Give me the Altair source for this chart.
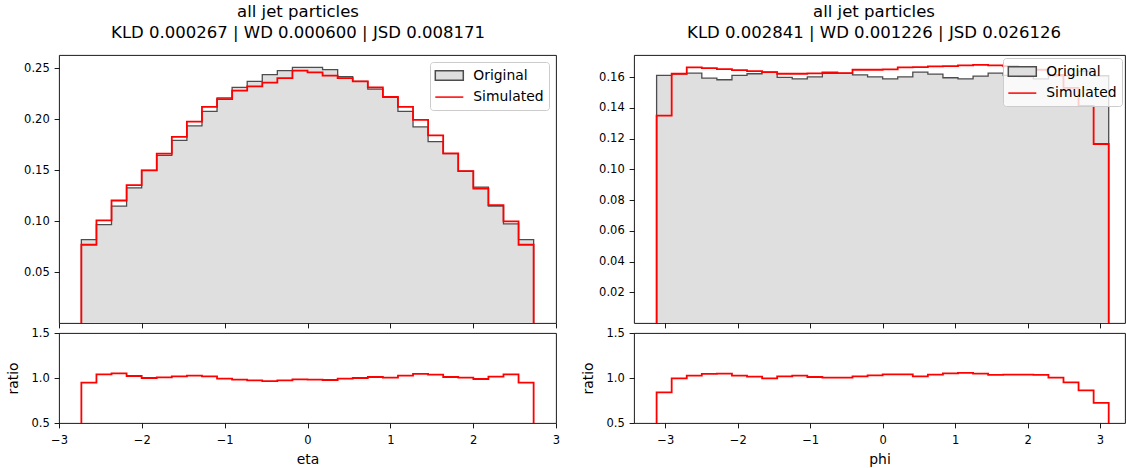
import altair as alt
import numpy as np
import pandas as pd

# ---------------- data ----------------
N_BINS = 30
ETA_RANGE = (-2.73, 2.73)
PHI_RANGE = (-3.12, 3.12)

eta_original = [0.0818, 0.0966, 0.1146, 0.1327, 0.1498, 0.1645, 0.1793, 0.1934, 0.2076, 0.2210,
                0.2312, 0.2371, 0.2437, 0.2476, 0.2509, 0.2509, 0.2486, 0.2417, 0.2371, 0.2296,
                0.2214, 0.2076, 0.1924, 0.1780, 0.1662, 0.1491, 0.1333, 0.1146, 0.0972, 0.0818]
eta_simulated = [0.0768, 0.1008, 0.1202, 0.1353, 0.1498, 0.1662, 0.1826, 0.1977, 0.2121, 0.2197,
                 0.2280, 0.2322, 0.2358, 0.2404, 0.2476, 0.2460, 0.2427, 0.2404, 0.2371, 0.2312,
                 0.2220, 0.2121, 0.1993, 0.1842, 0.1665, 0.1491, 0.1320, 0.1156, 0.0998, 0.0768]
eta_ratio = [0.948, 1.041, 1.052, 1.022, 1.000, 1.008, 1.019, 1.026, 1.019, 0.993,
             0.981, 0.974, 0.966, 0.974, 0.985, 0.981, 0.978, 0.993, 1.000, 1.011,
             1.004, 1.026, 1.045, 1.037, 1.011, 1.004, 0.989, 1.015, 1.041, 0.948]

phi_original = [0.1611, 0.1622, 0.1626, 0.1593, 0.1583, 0.1611, 0.1622, 0.1633, 0.1598, 0.1589,
                0.1602, 0.1624, 0.1624, 0.1615, 0.1602, 0.1589, 0.1602, 0.1633, 0.1620, 0.1596,
                0.1589, 0.1607, 0.1626, 0.1612, 0.1604, 0.1589, 0.1608, 0.1610, 0.1639, 0.1609]
phi_simulated = [0.1350, 0.1622, 0.1663, 0.1659, 0.1652, 0.1646, 0.1639, 0.1633, 0.1622, 0.1622,
                 0.1624, 0.1630, 0.1626, 0.1648, 0.1648, 0.1650, 0.1663, 0.1665, 0.1670, 0.1672,
                 0.1676, 0.1680, 0.1676, 0.1672, 0.1663, 0.1648, 0.1614, 0.1530, 0.1413, 0.1165]
phi_ratio = [0.840, 0.996, 1.026, 1.045, 1.048, 1.026, 1.015, 0.996, 1.019, 1.026,
             1.011, 1.004, 1.004, 1.019, 1.030, 1.041, 1.041, 1.019, 1.037, 1.052,
             1.056, 1.048, 1.034, 1.037, 1.037, 1.034, 1.004, 0.952, 0.862, 0.724]

x_ticks = [-3, -2, -1, 0, 1, 2, 3]
eta_yticks = [0.05, 0.10, 0.15, 0.20, 0.25]
phi_yticks = [0.02, 0.04, 0.06, 0.08, 0.10, 0.12, 0.14, 0.16]
ratio_yticks = [0.5, 1.0, 1.5]
series_names = ["Original", "Simulated"]
titles = {
    "eta": ["all jet particles", "KLD 0.000267 | WD 0.000600 | JSD 0.008171"],
    "phi": ["all jet particles", "KLD 0.002841 | WD 0.001226 | JSD 0.026126"],
}

# ---------------- styling ----------------
FONT = "DejaVu Sans"
GRAY_FILL = "#dfdfdf"
GRAY_EDGE = "#4d4d4d"
RED = "#ff0000"
MAIN_H = 268
RATIO_H = 90
PATCH_PATH = "M-2,-0.69H2V0.69H-2Z"
LINE_PATH = "M-2,0H2"


def edges(rng):
    return np.linspace(rng[0], rng[1], N_BINS + 1)


def area_frame(e, vals):
    return pd.DataFrame({"x": list(e[:-1]) + [e[-1]], "y": list(vals) + [vals[-1]]})


def step_frame(e, vals):
    xs = [e[0]] + list(e[:-1]) + [e[-1], e[-1]]
    ys = [0.0] + list(vals) + [vals[-1], 0.0]
    return pd.DataFrame({"i": range(len(xs)), "x": xs, "y": ys})


def legend_layer(offset):
    leg = alt.Legend(
        title=None, orient="top-right", offset=offset, padding=5.5,
        fillColor="rgba(255,255,255,0.8)", strokeColor="#cccccc", cornerRadius=3,
        labelFont=FONT, labelFontSize=13.9, labelColor="black",
        symbolSize=196, symbolStrokeWidth=1.5, symbolOffset=5.8, labelOffset=16,
        symbolOpacity=1, rowPadding=5.6,
    )
    is_orig = "datum.value === 'Original'"
    return alt.Chart(pd.DataFrame({"series": series_names})).mark_point(
        opacity=0, filled=False, strokeWidth=1.5,
        fill=alt.ExprRef(f"{is_orig} ? '{GRAY_FILL}' : 'transparent'"),
        stroke=alt.ExprRef(f"{is_orig} ? '{GRAY_EDGE}' : '{RED}'"),
    ).encode(
        shape=alt.Shape("series:N", legend=leg,
                        scale=alt.Scale(domain=series_names, range=[PATCH_PATH, LINE_PATH])),
    )


def panel(name, rng, orig, sim, ratio, xdom, width, ydom, yticks, title_lines,
          title_dx, legend_offset):
    e = edges(rng)
    xscale = alt.Scale(domain=xdom, nice=False, zero=False)
    yscale = alt.Scale(domain=ydom, nice=False, zero=False)

    x_main = alt.X("x:Q", scale=xscale, title=None,
                   axis=alt.Axis(values=x_ticks, labels=False, labelFlush=False))
    y_main = alt.Y("y:Q", scale=yscale, title=None, stack=None,
                   axis=alt.Axis(values=yticks, format=".2f"))

    area = alt.Chart(area_frame(e, orig)).mark_area(
        interpolate="step-after", opacity=1, color=GRAY_FILL
    ).encode(x=x_main, y=y_main)
    gray_line = alt.Chart(step_frame(e, orig)).mark_line(
        interpolate="step-after", color=GRAY_EDGE, strokeWidth=1.3
    ).encode(x=x_main, y=y_main, order=alt.Order("i:Q"))
    red_line = alt.Chart(step_frame(e, sim)).mark_line(
        interpolate="step-after", color=RED, strokeWidth=1.8
    ).encode(x=x_main, y=y_main, order=alt.Order("i:Q"))

    main = alt.layer(area, gray_line, red_line, legend_layer(legend_offset)).properties(
        width=width, height=MAIN_H,
        title=alt.TitleParams(text=title_lines, font=FONT, fontSize=16.5,
                              fontWeight="normal", color="black", lineHeight=21,
                              anchor="middle", frame="group", dx=title_dx, offset=14),
    )

    ratio_chart = alt.Chart(step_frame(e, ratio)).mark_line(
        interpolate="step-after", color=RED, strokeWidth=1.8, clip=True
    ).encode(
        x=alt.X("x:Q", scale=xscale, title=name,
                axis=alt.Axis(values=x_ticks, format="d", labelFlush=False,
                              labelPadding=6.9, titlePadding=6)),
        y=alt.Y("y:Q", scale=alt.Scale(domain=[0.5, 1.5], nice=False, zero=False),
                title="ratio", axis=alt.Axis(values=ratio_yticks, format=".1f", titlePadding=10)),
        order=alt.Order("i:Q"),
    ).properties(width=width, height=RATIO_H)

    return alt.vconcat(main, ratio_chart, spacing=-3).resolve_scale(shape="independent")


left = panel("eta", ETA_RANGE, eta_original, eta_simulated, eta_ratio,
             [-3, 3], 497, [0, 0.263], eta_yticks, titles["eta"], -9.5, 7)
right = panel("phi", PHI_RANGE, phi_original, phi_simulated, phi_ratio,
              [-3.432, 3.345], 491, [0, 0.1744], phi_yticks, titles["phi"], -5.5, 3)

chart = alt.hconcat(left, right, spacing=20).resolve_scale(shape="independent").properties(
    padding={"left": 6, "top": 3, "right": 0, "bottom": 0}
).configure_view(
    stroke="black", strokeWidth=0.9
).configure_axis(
    labelFont=FONT, labelFontSize=11.5, labelColor="black",
    tickColor="black", tickSize=4.9, tickWidth=0.9, labelPadding=4.9,
    domain=False, grid=False,
    titleFont=FONT, titleFontSize=13.9, titleFontWeight="normal", titleColor="black",
).configure_title(font=FONT, fontWeight="normal", color="black")

chart.save("out.html", embed_options={"renderer": "svg", "actions": False})
